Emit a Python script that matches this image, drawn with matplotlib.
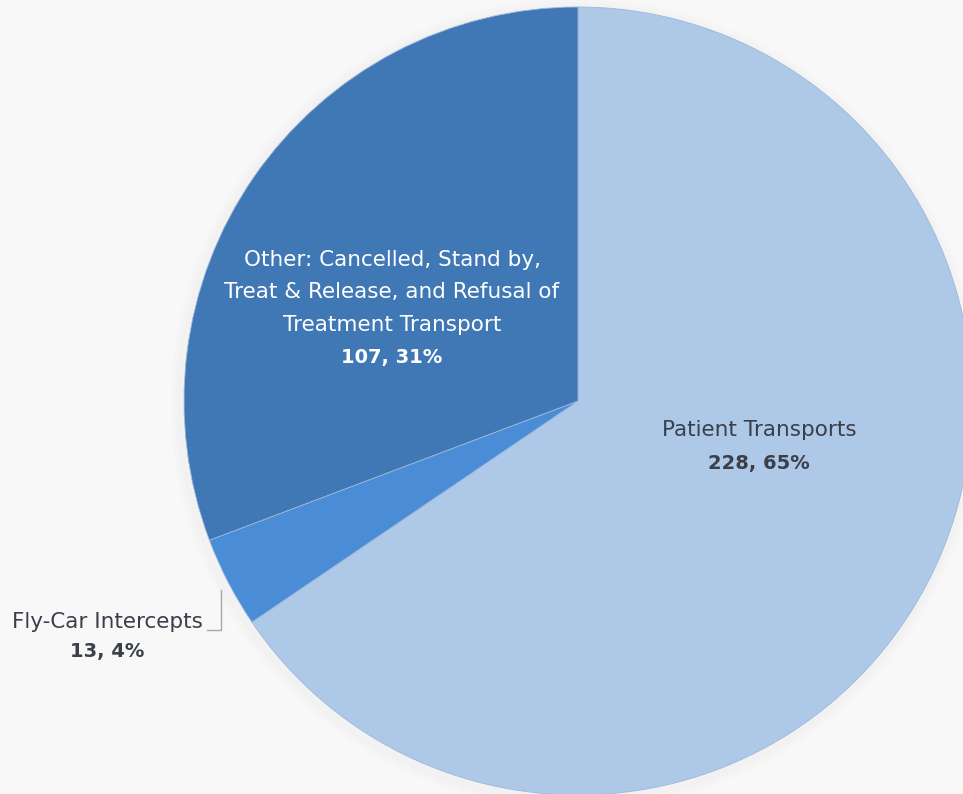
import matplotlib
matplotlib.use("Agg")
import matplotlib.pyplot as plt

categories = ["Patient Transports", "Fly-Car Intercepts",
              "Other: Cancelled, Stand by,\nTreat & Release, and Refusal of\nTreatment Transport"]
values = [228, 13, 107]
pct_labels = ["65%", "4%", "31%"]
colors = ["#AEC8E8", "#4A8DD6", "#3F78B4"]

W, H = 963, 794
fig = plt.figure(figsize=(W / 100, H / 100), dpi=100)
fig.patch.set_facecolor("#F8F8F8")
ax = fig.add_axes([0, 0, 1, 1])
ax.set_facecolor("#F8F8F8")

cx, cy, r = 578, H - 401, 394
for k, a in enumerate([0.03, 0.03, 0.03]):
    sh = plt.Circle((cx - 2, cy - 3), r + 4 + 3 * k, color="#C8C8C8", alpha=a, zorder=0)
    ax.add_patch(sh)
ax.pie(values, colors=colors, startangle=90, counterclock=False,
       center=(cx, cy), radius=r, wedgeprops=dict(linewidth=0.6, edgecolor="#9DB8DA"))
ax.set_xlim(0, W)
ax.set_ylim(0, H)
ax.set_aspect("equal")
ax.axis("off")

font = ["DejaVu Sans"]
fs_text = 15.5
fs_num = 14
dark = "#3A3F4A"


def block(x, y0, step, lines, color):
    for i, ln in enumerate(lines):
        last = i == len(lines) - 1
        ax.text(x, H - (y0 + i * step), ln, ha="center", va="center", color=color,
                fontsize=fs_num if last else fs_text, family=font,
                fontweight="bold" if last else "normal")


# Other label
block(392, 260, 32.5,
      categories[2].split("\n") + [f"{values[2]}, {pct_labels[2]}"], "white")
# Patient label
block(759, 430, 33, [categories[0], f"{values[0]}, {pct_labels[0]}"], dark)
# Fly-Car label
block(107, 622, 30, [categories[1], f"{values[1]}, {pct_labels[1]}"], dark)
ax.plot([207, 221, 221], [H - 630, H - 630, H - 590], color="#A8A8A8", lw=1)

fig.savefig("out.png", dpi=100, facecolor=fig.get_facecolor())
